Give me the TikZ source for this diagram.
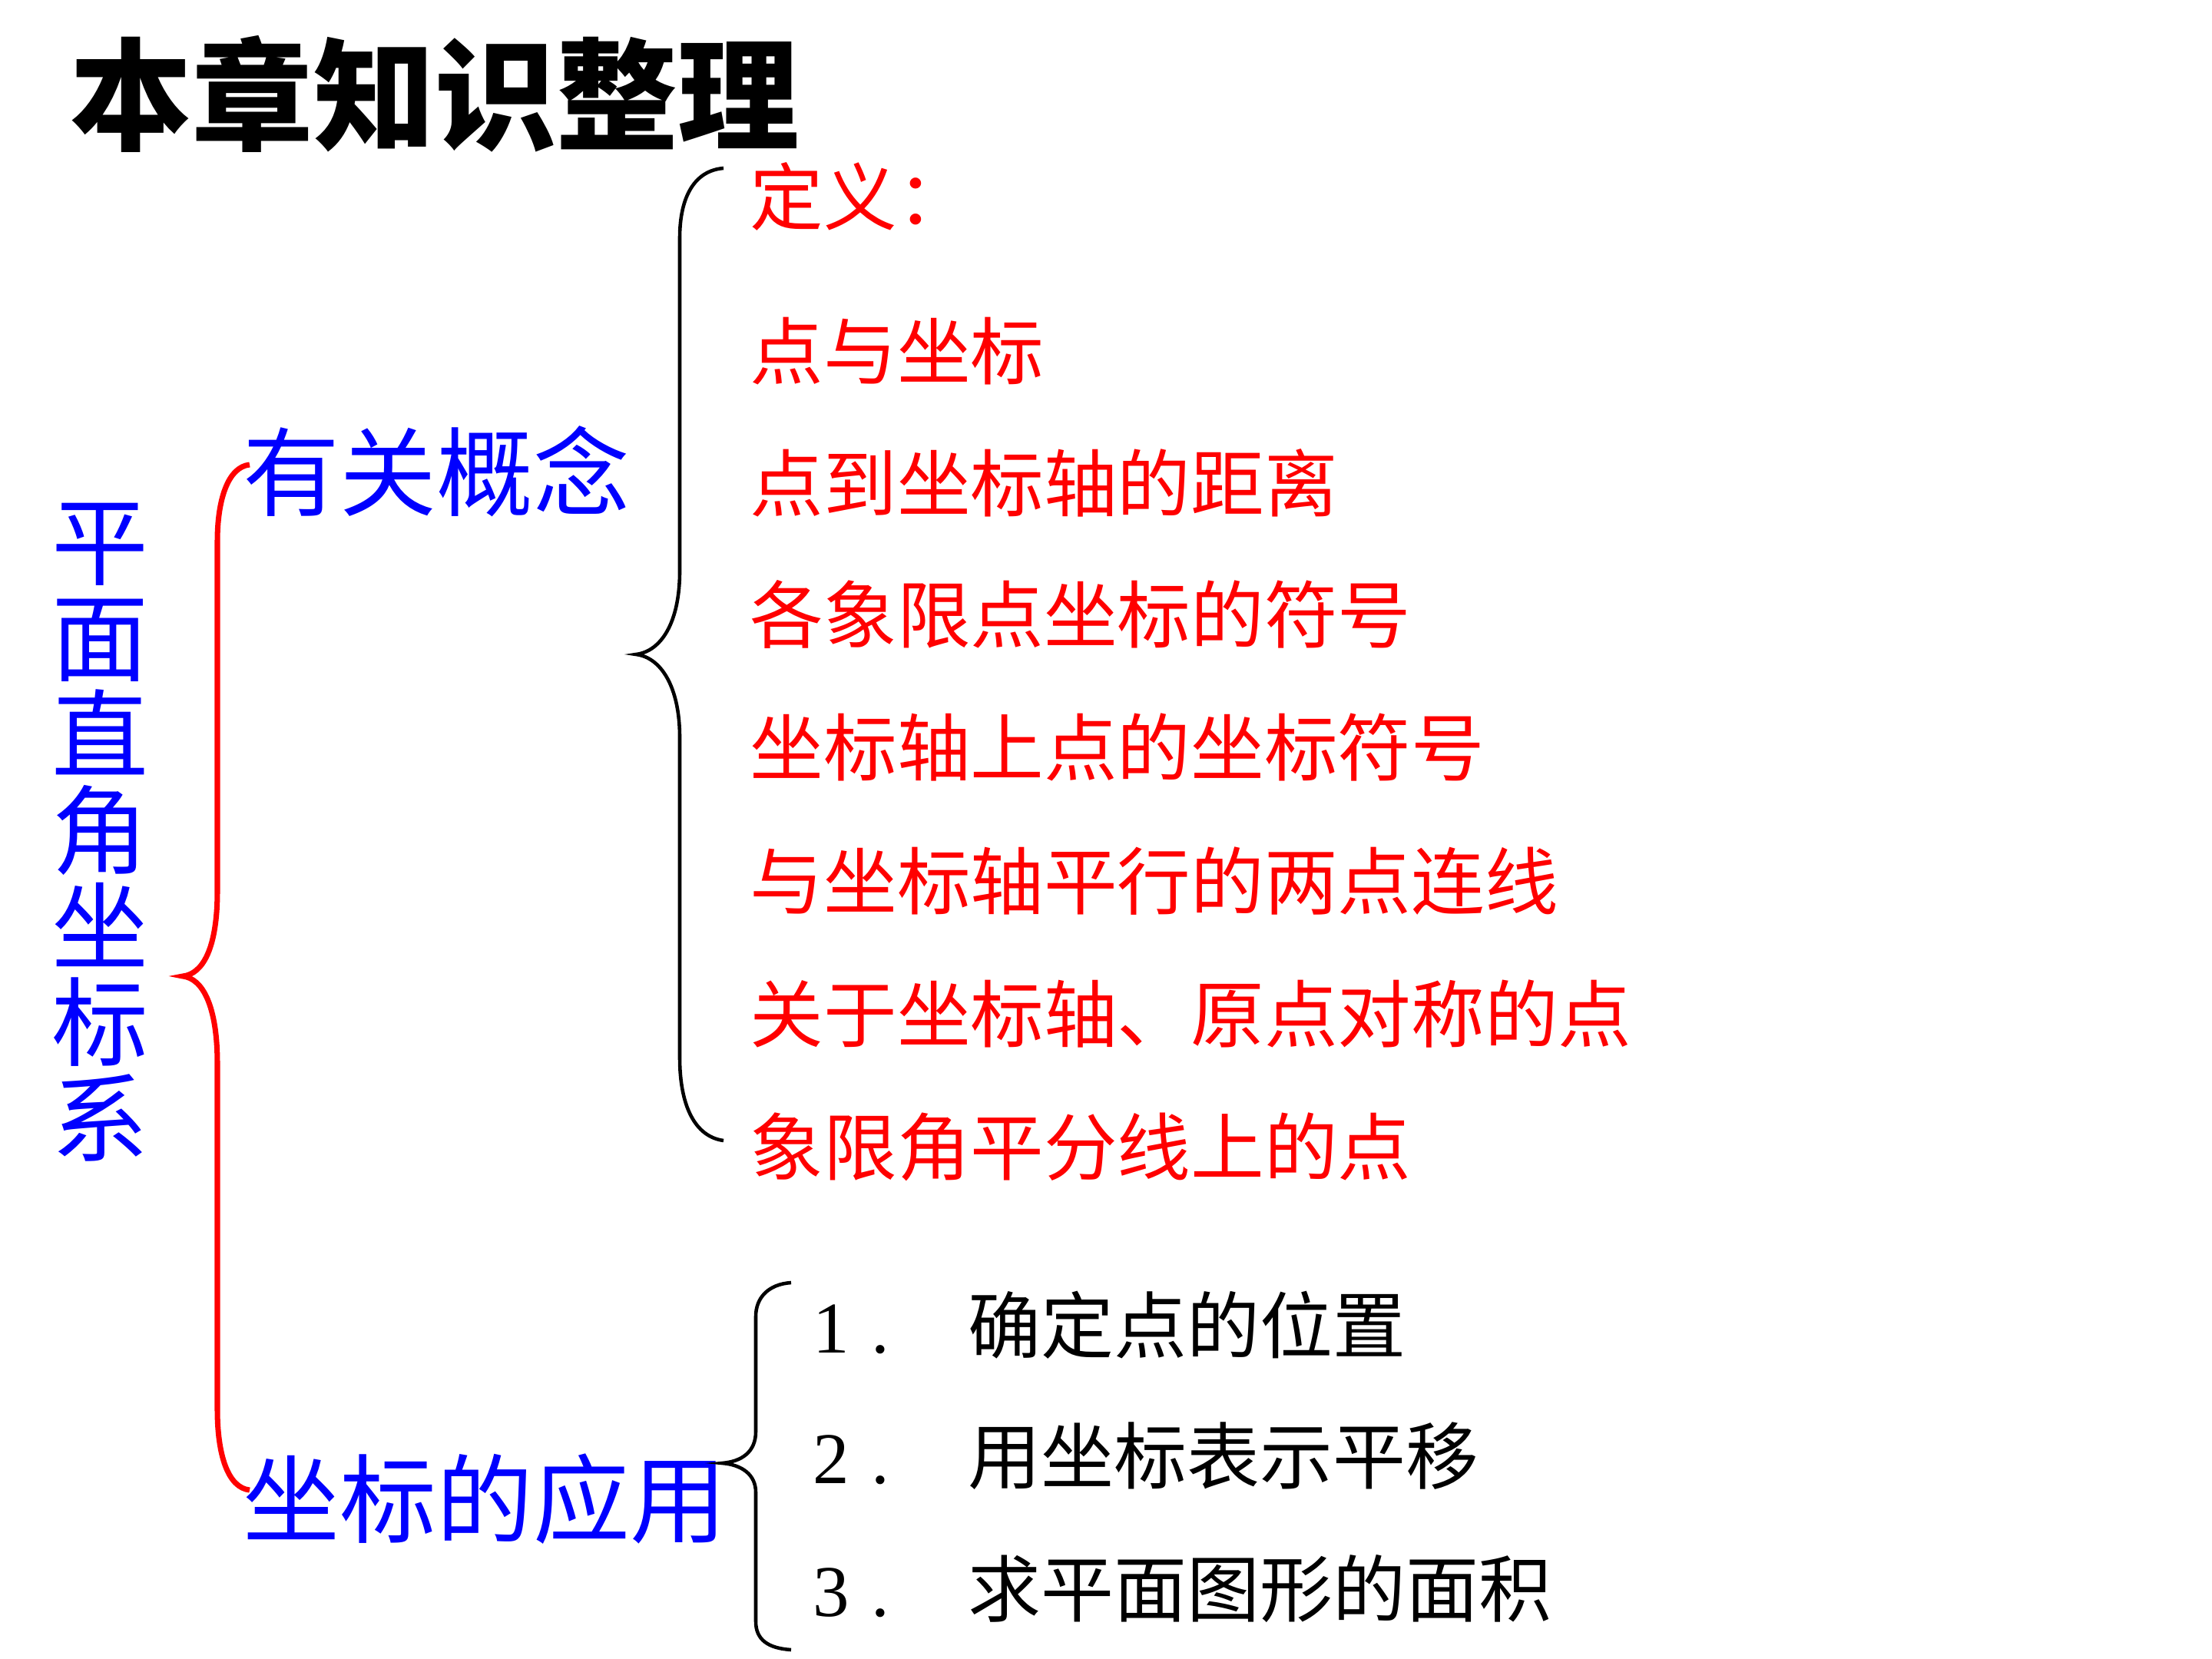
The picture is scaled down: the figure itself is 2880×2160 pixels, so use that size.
\documentclass[tikz,border=0pt]{standalone}
\usepackage{fontspec}
\newfontfamily\cjk{Noto Sans CJK SC}
\newfontfamily\seriff{Liberation Serif}
\definecolor{pred}{RGB}{255,0,0}
\definecolor{pblue}{RGB}{0,0,255}
\begin{document}
\begin{tikzpicture}[x=0.01cm,y=-0.01cm,
  titletext/.style={anchor=west,inner sep=0,font=\cjk\bfseries\fontsize{45}{45}\selectfont},
  topic/.style={anchor=west,inner sep=0,text=pblue,font=\cjk\fontsize{35.8}{35.8}\selectfont},
  itemtext/.style={anchor=west,inner sep=0,text=pred,font=\cjk\fontsize{27.2}{27.2}\selectfont},
  apptext/.style={anchor=west,inner sep=0,text=black,font=\cjk\fontsize{27}{27}\selectfont},
  redbrace/.style={draw=pred,line width=2pt},
  blackbrace/.style={draw=black,line width=1.3pt}]
\useasboundingbox (0,0) rectangle (2880,2160);
\fill[white] (0,0) rectangle (2880,2160);

% title
\node[titletext] (title) at (91,122) {本章知识整理};

% root (vertical)
\node[anchor=center,inner sep=0,text=pblue,align=center,
      font=\cjk\fontsize{35.8}{35.6}\selectfont] (root) at (130,1084)
  {平\\面\\直\\角\\坐\\标\\系};

% topics
\node[topic] (concept) at (316,614) {有关概念};
\node[topic] (apply) at (316,1952) {坐标的应用};

% concept items
\node[itemtext] (c1) at (976,256) {定义：};
\node[itemtext] (c2) at (976,457) {点与坐标};
\node[itemtext] (c3) at (976,629) {点到坐标轴的距离};
\node[itemtext] (c4) at (976,800) {各象限点坐标的符号};
\node[itemtext] (c5) at (976,973) {坐标轴上点的坐标符号};
\node[itemtext] (c6) at (976,1147) {与坐标轴平行的两点连线};
\node[itemtext] (c7) at (976,1320) {关于坐标轴、原点对称的点};
\node[itemtext] (c8) at (976,1493) {象限角平分线上的点};

% application items
\node[apptext] (a1) at (1058,1725) {\makebox[2.02cm][l]{\seriff 1\kern0.3em.}确定点的位置};
\node[apptext] (a2) at (1058,1896) {\makebox[2.02cm][l]{\seriff 2\kern0.3em.}用坐标表示平移};
\node[apptext] (a3) at (1058,2068) {\makebox[2.02cm][l]{\seriff 3\kern0.3em.}求平面图形的面积};

% brace end points
\coordinate (rtip) at (238,1271);
\coordinate (rtop) at (325,605);
\coordinate (rbot) at (325,1940);
\coordinate (btip) at (828,852);
\coordinate (btop) at (942,219);
\coordinate (bbot) at (942,1485);
\coordinate (ctip) at (940,1905);
\coordinate (ctop) at (1030,1670);
\coordinate (cbot) at (1030,2148);

% red brace
\draw[redbrace] (rtop) .. controls (297,608) and (283,650) .. (283,705)
  -- (283,1160) .. controls (283,1235) and (264,1268) .. (rtip)
  .. controls (264,1274) and (283,1310) .. (283,1385)
  -- (283,1835) .. controls (283,1895) and (297,1937) .. (rbot);

% black brace 1
\draw[blackbrace] (btop) .. controls (905,222) and (885,255) .. (885,310)
  -- (885,744) .. controls (885,810) and (861,848) .. (btip)
  .. controls (861,856) and (885,895) .. (885,960)
  -- (885,1377) .. controls (885,1440) and (905,1480) .. (bbot);

% black brace 2
\draw[blackbrace] (ctop) .. controls (1000,1672) and (984,1690) .. (984,1714)
  -- (984,1864) .. controls (984,1890) and (966,1903) .. (ctip)
  .. controls (966,1907) and (984,1920) .. (984,1943)
  -- (984,2111) .. controls (984,2135) and (1000,2146) .. (cbot);
\end{tikzpicture}
\end{document}
